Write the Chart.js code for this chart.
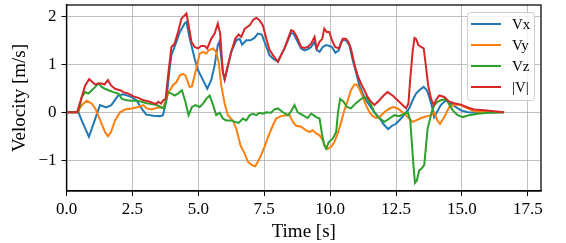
<!DOCTYPE html>
<html>
<head>
<meta charset="utf-8">
<script src="https://cdn.jsdelivr.net/npm/chart.js@4.4.1/dist/chart.umd.min.js"></script>
<style>
  html, body { margin: 0; padding: 0; background: #fff; }
  #wrap { width: 566px; height: 243px; position: relative; }
</style>
</head>
<body>
<div id="wrap"><canvas id="velChart"></canvas></div>
<script>
// ------- Data -------
const xTicks = [0, 2.5, 5, 7.5, 10, 12.5, 15, 17.5];
const yTicks = [-1, 0, 1, 2];

const vxTime = [0, 0.45, 0.6, 0.85, 1.05, 1.27, 1.5, 1.7, 1.96, 2.15, 2.46, 2.65, 2.9, 3.03, 3.3, 3.54, 3.66, 3.79, 3.9, 3.98, 4.17, 4.3, 4.48, 4.55, 4.67, 4.86, 4.99, 5.18, 5.34, 5.49, 5.62, 5.74, 5.8, 5.93, 6.0, 6.12, 6.25, 6.44, 6.57, 6.66, 6.82, 6.98, 7.13, 7.26, 7.41, 7.51, 7.7, 7.83, 8.02, 8.14, 8.27, 8.4, 8.52, 8.61, 8.74, 8.9, 9.03, 9.15, 9.28, 9.41, 9.49, 9.6, 9.72, 9.85, 9.97, 10.07, 10.2, 10.33, 10.45, 10.6, 10.73, 10.86, 10.98, 11.11, 11.24, 11.36, 11.49, 11.68, 11.87, 12.03, 12.2, 12.35, 12.5, 12.69, 12.88, 13.0, 13.13, 13.26, 13.38, 13.55, 13.67, 13.76, 13.85, 13.95, 14.07, 14.2, 14.39, 14.58, 14.77, 14.96, 15.22, 15.6, 16.0, 16.6];
const vxVals = [0, 0, -0.2, -0.51, -0.2, 0.15, 0.1, 0.15, 0.35, 0.375, 0.32, 0.25, 0.04, -0.05, -0.07, -0.08, -0.06, 0.25, 0.85, 1.19, 1.47, 1.67, 1.85, 1.88, 1.55, 1.12, 0.875, 0.67, 0.49, 0.67, 0.98, 1.4, 1.47, 0.85, 0.68, 0.95, 1.26, 1.5, 1.53, 1.41, 1.5, 1.5, 1.55, 1.64, 1.62, 1.47, 1.19, 1.12, 1.05, 1.19, 1.33, 1.5, 1.65, 1.64, 1.5, 1.33, 1.29, 1.31, 1.36, 1.47, 1.3, 1.26, 1.36, 1.4, 1.38, 1.36, 1.24, 1.29, 1.5, 1.5, 1.4, 1.08, 0.84, 0.56, 0.39, 0.25, 0.15, 0.0, -0.12, -0.25, -0.35, -0.28, -0.24, -0.13, 0.0, 0.08, 0.25, 0.39, 0.46, 0.53, 0.46, 0.32, 0.15, -0.1, 0.02, 0.15, 0.25, 0.18, 0.11, 0.04, 0.0, -0.01, 0.0, 0.0];

const vyTime = [0, 0.4, 0.58, 0.77, 0.96, 1.09, 1.28, 1.46, 1.57, 1.69, 1.84, 2.03, 2.22, 2.47, 2.73, 2.92, 3.04, 3.23, 3.48, 3.67, 3.86, 4.03, 4.17, 4.3, 4.42, 4.51, 4.67, 4.76, 4.92, 5.05, 5.18, 5.3, 5.39, 5.56, 5.68, 5.77, 5.87, 6.0, 6.12, 6.31, 6.44, 6.6, 6.76, 6.88, 7.03, 7.16, 7.32, 7.51, 7.7, 7.83, 7.95, 8.14, 8.33, 8.46, 8.59, 8.71, 8.9, 9.09, 9.22, 9.34, 9.47, 9.6, 9.72, 9.82, 9.91, 10.04, 10.16, 10.29, 10.42, 10.54, 10.67, 10.79, 10.92, 11.01, 11.11, 11.24, 11.36, 11.49, 11.62, 11.74, 11.87, 12.06, 12.25, 12.41, 12.56, 12.75, 12.88, 13.0, 13.13, 13.26, 13.45, 13.57, 13.7, 13.83, 13.95, 14.07, 14.17, 14.33, 14.52, 14.71, 14.96, 15.22, 15.47, 15.85, 16.6];
const vyVals = [0, 0, 0.15, 0.24, 0.18, 0.08, -0.17, -0.41, -0.5, -0.41, -0.17, 0.0, 0.06, 0.08, 0.11, 0.15, 0.08, 0.06, 0.1, 0.1, 0.4, 0.56, 0.63, 0.77, 0.8, 0.77, 0.53, 0.54, 0.9, 1.22, 1.26, 1.22, 1.29, 1.33, 1.26, 1.05, 0.56, 0.18, -0.06, -0.17, -0.34, -0.69, -0.86, -1.03, -1.1, -1.125, -0.97, -0.72, -0.44, -0.27, -0.13, -0.08, -0.06, -0.06, -0.2, -0.28, -0.3, -0.375, -0.41, -0.375, -0.44, -0.48, -0.58, -0.72, -0.76, -0.72, -0.62, -0.44, -0.2, 0.04, 0.25, 0.46, 0.58, 0.58, 0.49, 0.32, 0.15, 0.0, -0.08, -0.12, -0.1, 0.0, 0.08, 0.11, 0.08, 0.0, -0.06, -0.13, -0.2, -0.17, -0.12, -0.1, -0.08, -0.06, 0.0, -0.17, -0.24, -0.1, 0.11, 0.16, 0.15, 0.08, 0.02, 0.0, 0.0];

const vzTime = [0, 0.45, 0.58, 0.71, 0.83, 0.96, 1.09, 1.21, 1.34, 1.46, 1.59, 1.78, 1.97, 2.1, 2.29, 2.47, 2.66, 2.85, 3.04, 3.23, 3.42, 3.61, 3.71, 3.85, 3.98, 4.1, 4.23, 4.38, 4.51, 4.63, 4.76, 4.89, 5.05, 5.18, 5.3, 5.43, 5.56, 5.68, 5.81, 5.93, 6.06, 6.25, 6.38, 6.53, 6.69, 6.82, 6.95, 7.07, 7.2, 7.32, 7.45, 7.58, 7.76, 7.89, 8.02, 8.21, 8.4, 8.52, 8.65, 8.77, 8.96, 9.15, 9.28, 9.37, 9.47, 9.6, 9.7, 9.78, 9.85, 9.95, 10.1, 10.23, 10.3, 10.38, 10.51, 10.64, 10.79, 10.96, 11.11, 11.3, 11.42, 11.55, 11.68, 11.81, 12.06, 12.25, 12.44, 12.63, 12.82, 12.95, 13.04, 13.09, 13.16, 13.22, 13.29, 13.38, 13.47, 13.57, 13.64, 13.7, 13.76, 13.85, 13.95, 14.07, 14.2, 14.36, 14.46, 14.65, 14.84, 15.03, 15.28, 15.6, 16.0, 16.6];
const vzVals = [0, 0, 0.32, 0.42, 0.39, 0.46, 0.53, 0.6, 0.53, 0.49, 0.46, 0.42, 0.39, 0.28, 0.25, 0.24, 0.24, 0.22, 0.19, 0.17, 0.15, 0.1, 0.08, 0.42, 0.39, 0.35, 0.39, 0.46, 0.22, -0.06, 0.11, 0.15, 0.11, 0.18, 0.28, 0.35, 0.15, -0.06, -0.01, -0.13, -0.17, -0.17, -0.2, -0.22, -0.13, -0.17, -0.06, -0.03, -0.06, -0.01, -0.03, 0.0, -0.01, 0.06, 0.08, 0.0, -0.06, 0.02, 0.15, 0.0, -0.06, -0.12, -0.03, -0.06, -0.1, -0.13, -0.48, -0.69, -0.76, -0.62, -0.55, -0.41, 0.0, 0.28, 0.22, 0.11, 0.08, 0.18, 0.25, 0.32, 0.28, 0.15, 0.0, -0.1, -0.2, -0.13, -0.06, -0.08, -0.03, 0.0, -0.17, -0.55, -1.1, -1.47, -1.42, -1.21, -1.17, -1.1, -0.69, -0.34, -0.2, 0.0, 0.15, 0.22, 0.25, 0.27, 0.22, 0.04, -0.06, -0.1, -0.06, -0.03, -0.01, 0.0];

const vmagTime = [0, 0.4, 0.58, 0.71, 0.86, 0.98, 1.09, 1.21, 1.34, 1.44, 1.57, 1.69, 1.84, 2.03, 2.16, 2.35, 2.54, 2.73, 2.92, 3.1, 3.3, 3.42, 3.48, 3.59, 3.67, 3.76, 3.86, 3.98, 4.1, 4.23, 4.36, 4.48, 4.55, 4.61, 4.74, 4.86, 4.99, 5.11, 5.24, 5.34, 5.49, 5.62, 5.74, 5.83, 5.93, 6.0, 6.12, 6.25, 6.4, 6.53, 6.63, 6.76, 6.95, 7.07, 7.2, 7.32, 7.45, 7.58, 7.7, 7.83, 8.02, 8.14, 8.27, 8.4, 8.52, 8.61, 8.74, 8.9, 9.03, 9.15, 9.28, 9.41, 9.49, 9.6, 9.7, 9.78, 9.87, 9.97, 10.07, 10.19, 10.33, 10.48, 10.6, 10.69, 10.79, 10.92, 11.04, 11.17, 11.3, 11.42, 11.55, 11.68, 11.87, 12.03, 12.18, 12.37, 12.56, 12.75, 12.88, 12.97, 13.04, 13.13, 13.2, 13.26, 13.35, 13.45, 13.55, 13.64, 13.72, 13.83, 13.93, 14.01, 14.14, 14.33, 14.52, 14.71, 14.96, 15.22, 15.47, 15.85, 16.23, 16.6];
const vmagVals = [0, 0, 0.32, 0.56, 0.69, 0.63, 0.58, 0.6, 0.6, 0.58, 0.67, 0.56, 0.49, 0.46, 0.42, 0.39, 0.33, 0.3, 0.25, 0.23, 0.19, 0.18, 0.22, 0.18, 0.25, 0.28, 0.8, 1.36, 1.43, 1.67, 1.95, 2.02, 2.06, 1.88, 1.47, 1.36, 1.33, 1.38, 1.38, 1.33, 1.53, 1.64, 1.85, 1.64, 0.84, 0.69, 0.98, 1.26, 1.53, 1.62, 1.57, 1.74, 1.81, 1.92, 1.97, 1.92, 1.81, 1.53, 1.3, 1.19, 1.05, 1.19, 1.33, 1.53, 1.71, 1.69, 1.57, 1.36, 1.34, 1.36, 1.43, 1.57, 1.33, 1.47, 1.53, 1.74, 1.67, 1.67, 1.5, 1.36, 1.33, 1.53, 1.53, 1.47, 1.33, 1.01, 0.77, 0.6, 0.46, 0.32, 0.22, 0.15, 0.25, 0.35, 0.42, 0.35, 0.25, 0.15, 0.08, 0.18, 0.7, 1.26, 1.55, 1.53, 1.4, 1.36, 1.33, 0.94, 0.56, 0.28, 0.15, 0.25, 0.35, 0.32, 0.22, 0.19, 0.16, 0.1, 0.06, 0.04, 0.02, 0.0];

// ------- Helpers -------
function pairs(ts, vs) {
  return ts.map((t, i) => ({ x: t, y: vs[i] }));
}

function makeSeries(label, ts, vs, color, order) {
  return {
    label,
    data: pairs(ts, vs),
    borderColor: color,
    backgroundColor: color,
    borderWidth: 2,
    pointRadius: 0,
    tension: 0,
    fill: false,
    order
  };
}

const FONT = '"Liberation Serif", "Times New Roman", serif';

// spines on all four sides + legend box in the upper right corner
const framePlugin = {
  id: 'frame',
  afterDatasetsDraw(chart) {
    const { ctx, chartArea: a } = chart;
    ctx.save();
    ctx.strokeStyle = '#000';
    ctx.lineWidth = 1.25;
    ctx.strokeRect(a.left, a.top, a.right - a.left, a.bottom - a.top);

    // legend
    const bx = 467.5, by = 12.5, bw = 67, bh = 88, r = 3;
    ctx.beginPath();
    ctx.moveTo(bx + r, by);
    ctx.arcTo(bx + bw, by, bx + bw, by + bh, r);
    ctx.arcTo(bx + bw, by + bh, bx, by + bh, r);
    ctx.arcTo(bx, by + bh, bx, by, r);
    ctx.arcTo(bx, by, bx + bw, by, r);
    ctx.closePath();
    ctx.fillStyle = 'rgba(255,255,255,0.8)';
    ctx.fill();
    ctx.strokeStyle = '#cccccc';
    ctx.lineWidth = 1;
    ctx.stroke();

    ctx.font = '15px ' + FONT;
    ctx.textBaseline = 'middle';
    ctx.textAlign = 'left';
    chart.data.datasets.forEach((ds, i) => {
      const y = 24 + i * 21;
      ctx.beginPath();
      ctx.moveTo(471, y);
      ctx.lineTo(501, y);
      ctx.strokeStyle = ds.borderColor;
      ctx.lineWidth = 2;
      ctx.stroke();
      ctx.fillStyle = '#000';
      ctx.fillText(ds.label, 512, y + 1);
    });
    ctx.restore();
  }
};

const ctx = document.getElementById('velChart').getContext('2d');
new Chart(ctx, {
  type: 'line',
  data: {
    datasets: [
      makeSeries('Vx', vxTime, vxVals, '#1f77b4', 3),
      makeSeries('Vy', vyTime, vyVals, '#ff7f0e', 2),
      makeSeries('Vz', vzTime, vzVals, '#2ca02c', 1),
      makeSeries('|V|', vmagTime, vmagVals, '#d62728', 0)
    ]
  },
  options: {
    responsive: true,
    maintainAspectRatio: false,
    animation: false,
    events: [],
    layout: { padding: { left: 0, right: 25, top: 5, bottom: 0 } },
    plugins: { legend: { display: false }, tooltip: { enabled: false } },
    scales: {
      x: {
        type: 'linear',
        min: 0,
        max: 18,
        afterBuildTicks: s => { s.ticks = xTicks.map(v => ({ value: v })); },
        afterFit: s => { s.height = 52; s.paddingLeft = 0; s.paddingRight = 0; },
        ticks: {
          color: '#000',
          font: { family: FONT, size: 17 },
          padding: 3,
          maxRotation: 0,
          callback: v => Number(v).toFixed(1)
        },
        grid: { color: '#b0b0b0', lineWidth: 0.8, tickColor: '#000', tickLength: 5, tickWidth: 1 },
        border: { display: true, color: '#000', width: 1.25 },
        title: { display: true, text: 'Time [s]', color: '#000', font: { family: FONT, size: 19 }, padding: { top: 0, bottom: 0 } }
      },
      y: {
        type: 'linear',
        min: -1.64,
        max: 2.235,
        afterBuildTicks: s => { s.ticks = yTicks.map(v => ({ value: v })); },
        afterFit: s => { s.width = 66.5; s.paddingTop = 0; s.paddingBottom = 0; },
        ticks: {
          color: '#000',
          font: { family: FONT, size: 17 },
          padding: 5,
          callback: v => (v < 0 ? '\u2212' + Math.abs(v) : String(v))
        },
        grid: { color: '#b0b0b0', lineWidth: 0.8, tickColor: '#000', tickLength: 5, tickWidth: 1 },
        border: { display: true, color: '#000', width: 1.25 },
        title: { display: true, text: 'Velocity [m/s]', color: '#000', font: { family: FONT, size: 19 }, padding: { top: 9, bottom: 0 } }
      }
    }
  },
  plugins: [framePlugin]
});
</script>
</body>
</html>
